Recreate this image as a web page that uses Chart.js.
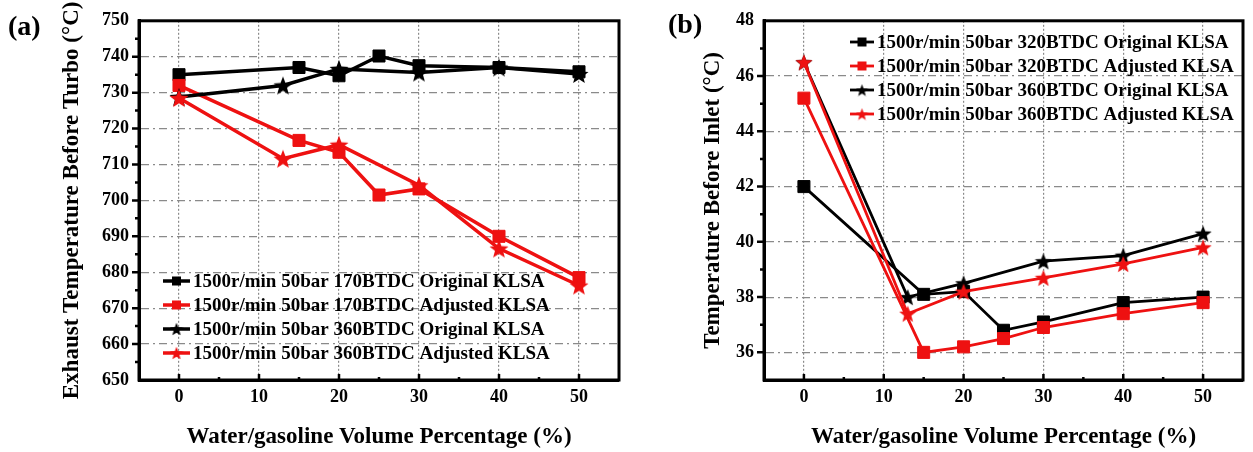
<!DOCTYPE html>
<html>
<head>
<meta charset="utf-8">
<script src="https://cdn.jsdelivr.net/npm/chart.js@4.4.1/dist/chart.umd.min.js"></script>
<style>
body { margin:0; background:#fff; width:1253px; height:452px; overflow:hidden; position:relative; font-family:"Liberation Serif", serif; }
.box { position:absolute; top:0; height:452px; }
.tag { position:absolute; font-weight:bold; font-size:28px; color:#000; }
</style>
</head>
<body>
<div class="box" style="left:0;width:630px"><canvas id="turbo"></canvas></div>
<div class="box" style="left:630px;width:623px"><canvas id="inlet"></canvas></div>
<div class="tag" style="left:8px;top:10px">(a)</div>
<div class="tag" style="left:668px;top:8px">(b)</div>
<script>
// water/gasoline volume percentage (%)
var xSquares = [0, 15, 20, 25, 30, 40, 50];
var xStars = [0, 13, 20, 30, 40, 50];

// (a) exhaust temperature before turbo (°C)
var turbo170Orig = [735, 737, 734.7, 740.2, 737.5, 737, 735.8];
var turbo170Adj = [732, 716.7, 713.4, 701.5, 703.2, 690, 678.5];
var turbo360Orig = [728.8, 732, 736.6, 735.6, 737, 735.2];
var turbo360Adj = [728.5, 711.6, 715.5, 704.2, 686.6, 676.3];
var labelsA = [
  '1500r/min 50bar 170BTDC Original KLSA',
  '1500r/min 50bar 170BTDC Adjusted KLSA',
  '1500r/min 50bar 360BTDC Original KLSA',
  '1500r/min 50bar 360BTDC Adjusted KLSA'
];

// (b) temperature before inlet (°C)
var inlet320Orig = [42.0, 38.1, 38.2, 36.8, 37.1, 37.8, 38.0];
var inlet320Adj = [45.2, 36.0, 36.2, 36.5, 36.9, 37.4, 37.8];
var inlet360Orig = [46.5, 38.0, 38.5, 39.3, 39.5, 40.3];
var inlet360Adj = [46.5, 37.4, 38.2, 38.7, 39.2, 39.8];
var labelsB = [
  '1500r/min 50bar 320BTDC Original KLSA',
  '1500r/min 50bar 320BTDC Adjusted KLSA',
  '1500r/min 50bar 360BTDC Original KLSA',
  '1500r/min 50bar 360BTDC Adjusted KLSA'
];

var xTickLabels = [0, 10, 20, 30, 40, 50];
var yTickLabelsA = [650, 660, 670, 680, 690, 700, 710, 720, 730, 740, 750];
var yTickLabelsB = [36, 38, 40, 42, 44, 46, 48];

var RED = '#ee1111';
var BLACK = '#000000';
var FONT = '"Liberation Serif", "Times New Roman", serif';

function starImage(size, color) {
  var c = document.createElement('canvas');
  c.width = size; c.height = size;
  var g = c.getContext('2d');
  var r = size / 2, ri = r * 0.42;
  g.beginPath();
  for (var i = 0; i < 10; i++) {
    var rad = i % 2 ? ri : r;
    var a = -Math.PI / 2 + i * Math.PI / 5;
    g.lineTo(r + rad * Math.cos(a), r * 1.1 + rad * Math.sin(a));
  }
  g.closePath();
  g.fillStyle = color;
  g.fill();
  return c;
}

function series(xs, ys, label, color, marker, width, starSize, order) {
  var pts = xs.map(function(x, i) { return {x: x, y: ys[i]}; });
  var isStar = marker === 'star';
  return {
    label: label,
    data: pts,
    showLine: true,
    tension: 0,
    borderColor: color,
    backgroundColor: color,
    borderWidth: width,
    pointStyle: isStar ? starImage(starSize, color) : 'rect',
    legendMarker: isStar ? starImage(Math.round(starSize * 0.7), color) : null,
    pointRadius: isStar ? starSize / 2 : 8.5,
    pointBorderWidth: 1,
    pointBorderColor: color,
    pointBackgroundColor: color,
    order: order
  };
}

var framePlugin = {
  id: 'frame',
  afterDraw: function(chart) {
    var o = chart.options.plugins.frame;
    var ctx = chart.ctx, a = chart.chartArea;
    var xs = chart.scales.x, ys = chart.scales.y;
    ctx.save();
    ctx.strokeStyle = '#000';
    ctx.lineWidth = 3;
    ctx.strokeRect(a.left, a.top, a.right - a.left, a.bottom - a.top);
    ctx.lineWidth = 2.5;
    ctx.beginPath();
    xs.ticks.forEach(function(t) {
      if (t.value <= xs.min || t.value >= xs.max) return;
      var px = xs.getPixelForValue(t.value);
      var len = t.value % 10 === 0 ? 6 : 3;
      ctx.moveTo(px, a.bottom);
      ctx.lineTo(px, a.bottom - len);
    });
    ys.ticks.forEach(function(t) {
      if (t.value <= ys.min || t.value >= ys.max) return;
      var py = ys.getPixelForValue(t.value);
      var len = t.value % o.major === 0 ? 7 : 4;
      ctx.moveTo(a.left, py);
      ctx.lineTo(a.left - len, py);
    });
    ctx.stroke();

    // legend inside the plot
    ctx.font = 'bold ' + o.legendFont + 'px ' + FONT;
    ctx.textBaseline = 'middle';
    ctx.textAlign = 'left';
    chart.data.datasets.forEach(function(ds, i) {
      var y = o.legendY + i * o.legendGap;
      var x = o.legendX;
      ctx.strokeStyle = ds.borderColor;
      ctx.lineWidth = ds.borderWidth;
      ctx.beginPath();
      ctx.moveTo(x, y);
      ctx.lineTo(x + o.lineLen, y);
      ctx.stroke();
      var cx = x + o.lineLen / 2;
      if (ds.legendMarker) {
        var m = ds.legendMarker;
        ctx.drawImage(m, cx - m.width / 2, y - m.height / 2);
      } else {
        ctx.fillStyle = ds.borderColor;
        ctx.fillRect(cx - 4.5, y - 4.5, 9, 9);
      }
      ctx.fillStyle = '#000';
      ctx.fillText(ds.label, x + o.lineLen + 3, y + 1);
    });
    ctx.restore();
  }
};

function chart(canvasId, datasets, opts) {
  var tickFont = {family: FONT, size: 18, weight: 'bold'};
  var titleFont = {family: FONT, size: 23, weight: 'bold'};
  return new Chart(document.getElementById(canvasId), {
    type: 'scatter',
    data: {datasets: datasets},
    plugins: [framePlugin],
    options: {
      responsive: true,
      maintainAspectRatio: false,
      animation: false,
      layout: {padding: {left: 0, top: 20, right: opts.padRight, bottom: 0}},
      plugins: {
        legend: {display: false},
        tooltip: {enabled: false},
        frame: opts.frame
      },
      scales: {
        x: {
          type: 'linear',
          min: -5,
          max: 55,
          afterFit: function(s) { s.height = 72; },
          ticks: {
            stepSize: 5,
            autoSkip: false,
            maxRotation: 0,
            padding: 7,
            color: '#000',
            font: tickFont,
            callback: function(v) { return xTickLabels.indexOf(v) >= 0 ? v : ''; }
          },
          grid: {
            drawTicks: false,
            lineWidth: 1.2,
            color: function(c) {
              var v = c.tick.value;
              return xTickLabels.indexOf(v) >= 0 ? '#8a8a8a' : 'rgba(0,0,0,0)';
            }
          },
          border: {display: true, color: '#000', width: 3, dash: [2, 2]},
          title: {
            display: true,
            text: 'Water/gasoline Volume Percentage (%)',
            color: '#000',
            font: titleFont,
            padding: {top: 0, bottom: 1}
          }
        },
        y: {
          min: opts.yMin,
          max: opts.yMax,
          afterFit: function(s) { s.width = opts.yWidth; },
          ticks: {
            stepSize: opts.yStep,
            autoSkip: false,
            padding: 10,
            color: '#000',
            font: tickFont,
            callback: function(v) { return opts.yLabels.indexOf(v) >= 0 ? v : ''; }
          },
          grid: {
            drawTicks: false,
            lineWidth: 1.2,
            color: function(c) {
              var v = c.tick.value;
              return (opts.yLabels.indexOf(v) >= 0 && v > opts.yMin && v < opts.yMax) ? '#8a8a8a' : 'rgba(0,0,0,0)';
            }
          },
          border: {display: true, color: '#000', width: 3, dash: [8, 4, 2, 4]},
          title: {
            display: true,
            text: opts.yTitle,
            color: '#000',
            font: titleFont,
            padding: {top: opts.yTitlePad, bottom: 0}
          }
        }
      }
    }
  });
}

chart('turbo', [
  series(xSquares, turbo170Orig, labelsA[0], BLACK, 'rect', 3.5, 20, 3),
  series(xSquares, turbo170Adj, labelsA[1], RED, 'rect', 3.5, 20, 2),
  series(xStars, turbo360Orig, labelsA[2], BLACK, 'star', 3.5, 20, 1),
  series(xStars, turbo360Adj, labelsA[3], RED, 'star', 3.5, 20, 0)
], {
  padRight: 7,
  yWidth: 139,
  yMin: 650, yMax: 750, yStep: 5,
  yLabels: yTickLabelsA,
  yTitle: 'Exhaust Temperature Before Turbo (°C)',
  yTitlePad: 58,
  frame: {major: 10, legendX: 163, legendY: 281, legendGap: 24, lineLen: 27, legendFont: 19}
});

chart('inlet', [
  series(xSquares, inlet320Orig, labelsB[0], BLACK, 'rect', 2.8, 18, 3),
  series(xSquares, inlet320Adj, labelsB[1], RED, 'rect', 2.8, 18, 2),
  series(xStars, inlet360Orig, labelsB[2], BLACK, 'star', 2.8, 18, 1),
  series(xStars, inlet360Adj, labelsB[3], RED, 'star', 2.8, 18, 0)
], {
  padRight: 3,
  yWidth: 134,
  yMin: 35, yMax: 48, yStep: 1,
  yLabels: yTickLabelsB,
  yTitle: 'Temperature Before Inlet (°C)',
  yTitlePad: 69,
  frame: {major: 2, legendX: 220, legendY: 42, legendGap: 24, lineLen: 24, legendFont: 19}
});
</script>
</body>
</html>
